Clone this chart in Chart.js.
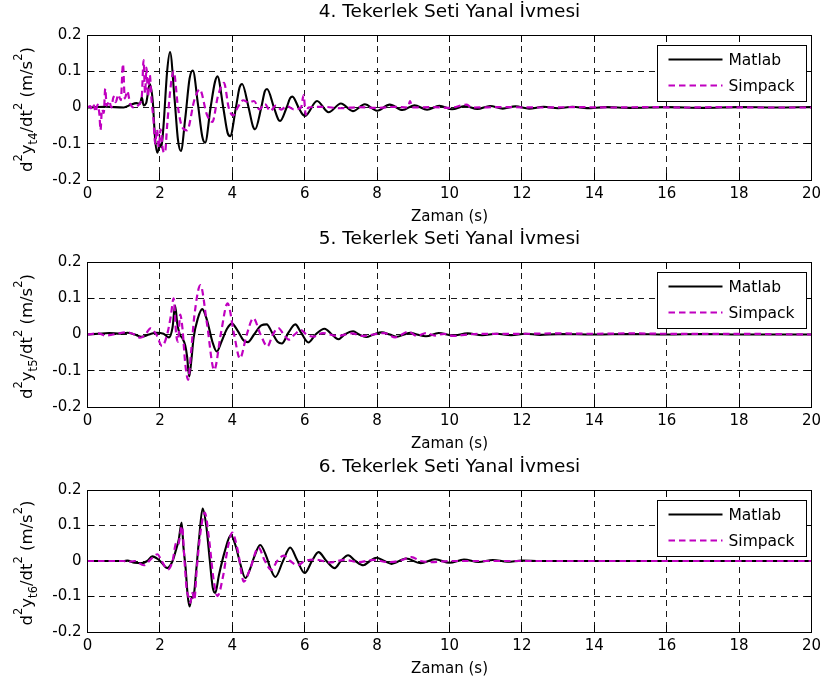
<!DOCTYPE html>
<html>
<head>
<meta charset="utf-8">
<script src="https://cdn.jsdelivr.net/npm/chart.js@4.4.1/dist/chart.umd.min.js"></script>
<style>
  html, body { margin: 0; padding: 0; background: #fff; }
  #fig { position: relative; width: 828px; height: 687px; background: #fff; overflow: hidden; }
  #fig canvas { position: absolute; left: 0; }
</style>
</head>
<body>
<div id="fig">
  <canvas id="c4" width="828" height="227" style="top:0px;width:828px;height:227px"></canvas>
  <canvas id="c5" width="828" height="227" style="top:227px;width:828px;height:227px"></canvas>
  <canvas id="c6" width="828" height="232" style="top:455px;width:828px;height:232px"></canvas>
</div>
<script>
// ---- axis ticks -------------------------------------------------------
const timeTicks = [0, 2, 4, 6, 8, 10, 12, 14, 16, 18, 20];
const timeTickLabels = ['0', '2', '4', '6', '8', '10', '12', '14', '16', '18', '20'];
const accelTicks = [-0.2, -0.1, 0, 0.1, 0.2];
const accelTickLabels = ['-0.2', '-0.1', '0', '0.1', '0.2'];

// ---- texts ------------------------------------------------------------
const panelTitles = ['4. Tekerlek Seti Yanal İvmesi', '5. Tekerlek Seti Yanal İvmesi', '6. Tekerlek Seti Yanal İvmesi'];
const wheelsetSubscripts = ['t4', 't5', 't6'];
const timeAxisTitle = 'Zaman (s)';
const seriesNames = ['Matlab', 'Simpack'];

// ---- lateral acceleration, [time (s), acceleration (m/s^2)] -----------
const matlab4 = [[0,0],[0.5,0.002],[1.0,0],[1.2,0.008],[1.35,0.012],[1.45,0.01],[1.5,0.028],[1.55,0.006],[1.62,0.012],[1.72,0.065],
  [1.8,0.02],[1.87,-0.09],[1.93,-0.125],[2.0,-0.1],[2.04,-0.11],[2.1,-0.05],[2.2,0.1],[2.28,0.153],[2.4,0.03],[2.5,-0.09],
  [2.58,-0.12],[2.7,-0.03],[2.82,0.08],[2.91,0.102],[3.05,0.01],[3.17,-0.08],[3.25,-0.097],[3.4,0],[3.52,0.07],[3.59,0.086],
  [3.75,0],[3.87,-0.07],[3.94,-0.079],[4.1,0],[4.2,0.055],[4.27,0.065],[4.45,0],[4.57,-0.052],[4.63,-0.06],[4.8,0],
  [4.9,0.045],[4.96,0.051],[5.15,0],[5.27,-0.033],[5.32,-0.037],[5.5,0],[5.6,0.026],[5.66,0.03],[5.83,0],[5.95,-0.02],
  [6.01,-0.023],[6.34,0.018],[6.66,-0.013],[7.0,0.011],[7.33,-0.01],[7.66,0.009],[8.0,-0.009],[8.35,0.008],[8.7,-0.007],[9.03,0.006],
  [9.38,-0.006],[9.72,0.005],[10.07,-0.005],[10.42,0.004],[10.77,-0.004],[11.12,0.004],[11.47,-0.003],[11.82,0.003],[12.2,-0.003],[12.6,0.002],
  [13.0,-0.002],[13.4,0.002],[13.8,-0.002],[14.3,0.001],[15.0,-0.001],[16.0,0.001],[17.0,-0.001],[18.0,0.001],[19.0,0],[20.0,0.001]];

const simpack4 = [[0,0],[0.08,0.004],[0.12,-0.006],[0.18,0.006],[0.22,-0.012],[0.28,0.008],[0.33,-0.02],[0.36,-0.062],[0.4,-0.005],[0.45,-0.015],
  [0.49,0.052],[0.53,0.005],[0.6,0.018],[0.66,0],[0.72,0.03],[0.78,0.015],[0.85,0.035],[0.92,0.02],[0.98,0.12],[1.03,0.025],
  [1.1,0.045],[1.18,0.01],[1.3,0],[1.42,0.008],[1.5,0.03],[1.55,0.131],[1.59,0.04],[1.63,0.11],[1.67,0.03],[1.72,0.09],
  [1.77,0.02],[1.82,-0.03],[1.87,-0.1],[1.92,-0.06],[1.97,-0.11],[2.02,-0.06],[2.08,-0.115],[2.14,-0.125],[2.2,-0.05],[2.3,0.06],
  [2.38,0.1],[2.5,0],[2.6,-0.05],[2.75,-0.063],[2.95,0.02],[3.1,0.05],[3.3,-0.02],[3.45,-0.04],[3.6,0.03],[3.77,0.068],
  [3.9,0],[4.02,-0.022],[4.15,0],[4.3,0.02],[4.45,0.014],[4.6,0.018],[4.75,-0.005],[4.9,0.01],[5.05,-0.01],[5.2,0.005],
  [5.35,-0.006],[5.5,0.004],[5.7,-0.005],[5.9,0],[5.97,0.034],[6.03,-0.02],[6.1,0],[6.5,0.002],[7.0,-0.002],[7.5,0.001],
  [8.0,-0.001],[8.5,0.002],[8.85,0],[8.91,0.018],[8.97,0],[9.5,0.001],[10.0,-0.001],[10.48,0.008],[10.6,0],[11.5,0.001],
  [12.5,0],[13.5,0.001],[14.5,0],[15.5,0.001],[16.5,0],[17.5,0.001],[18.5,0],[20,0]];

const matlab5 = [[0,0],[0.3,0.002],[0.6,0.004],[0.9,0.002],[1.1,0.005],[1.3,0],[1.5,-0.006],[1.7,0],[1.9,0.005],[2.1,0.002],
  [2.25,-0.008],[2.35,0.02],[2.42,0.08],[2.48,0.03],[2.55,0],[2.62,-0.01],[2.7,-0.03],[2.75,-0.06],[2.81,-0.116],[2.87,-0.07],
  [2.93,-0.01],[3.05,0.045],[3.17,0.07],[3.3,0.04],[3.45,-0.02],[3.57,-0.047],[3.7,-0.02],[3.85,0.015],[3.99,0.03],[4.15,0.01],
  [4.3,-0.015],[4.43,-0.021],[4.6,0],[4.8,0.025],[4.95,0.028],[5.1,0.005],[5.25,-0.02],[5.37,-0.025],[5.55,0.005],[5.74,0.028],
  [5.9,0.005],[6.1,-0.022],[6.3,0],[6.55,0.016],[6.75,0],[6.93,-0.013],[7.1,0],[7.34,0.009],[7.5,0],[7.7,-0.007],
  [7.9,0],[8.13,0.006],[8.35,0],[8.55,-0.006],[8.75,0],[8.92,0.005],[9.1,0],[9.35,-0.005],[9.7,0.004],[10.1,-0.003],
  [10.5,0.003],[10.9,-0.002],[11.3,0.002],[11.7,-0.002],[12.1,0.002],[12.5,-0.001],[13,0.001],[14,0],[15,0.001],[16,0],
  [17,0.001],[18,0],[19,0],[20,0]];

const simpack5 = [[0,0],[0.3,0.003],[0.5,-0.003],[0.7,0],[0.9,0.004],[1.1,0.006],[1.3,0],[1.46,-0.009],[1.6,0],[1.74,0.017],
  [1.9,0],[2.06,-0.032],[2.2,0],[2.3,0.05],[2.38,0.1],[2.45,0],[2.5,-0.02],[2.56,0.055],[2.62,0.02],[2.7,-0.08],
  [2.78,-0.125],[2.86,-0.05],[2.95,0.05],[3.12,0.136],[3.3,0.03],[3.5,-0.098],[3.68,0],[3.87,0.086],[4.05,0],[4.21,-0.066],
  [4.4,0],[4.58,0.045],[4.78,0],[4.97,-0.033],[5.12,0],[5.27,0.018],[5.42,0],[5.56,-0.014],[5.72,0],[5.9,0.012],
  [6.05,0],[6.25,-0.006],[6.5,0.004],[6.9,-0.004],[7.3,0.003],[7.6,-0.004],[7.9,0],[8.2,0.004],[8.5,-0.008],[8.87,0.008],
  [9.1,-0.004],[9.35,0.004],[9.6,-0.003],[9.85,0.002],[10.1,-0.004],[10.5,0],[11,0.002],[12,0.002],[13,0.003],[14,0.002],
  [15,0.003],[16,0.002],[17,0.002],[18,0.002],[19,0.001],[20,0]];

const matlab6 = [[0,0],[0.5,0],[1.0,0],[1.1,0.001],[1.3,-0.005],[1.5,-0.006],[1.65,0],[1.79,0.013],[1.95,0.005],[2.05,-0.005],
  [2.2,-0.02],[2.35,0],[2.44,0.03],[2.52,0.06],[2.6,0.108],[2.65,0.04],[2.71,-0.02],[2.77,-0.1],[2.82,-0.128],[2.87,-0.105],
  [2.93,-0.1],[3.0,-0.03],[3.08,0.06],[3.18,0.148],[3.28,0.1],[3.38,0],[3.46,-0.075],[3.53,-0.09],[3.63,-0.04],[3.8,0.03],
  [3.96,0.073],[4.1,0.04],[4.2,0],[4.36,-0.048],[4.5,-0.02],[4.6,0.01],[4.77,0.045],[4.95,0.01],[5.05,-0.02],[5.19,-0.045],
  [5.4,0],[5.6,0.038],[5.78,0.005],[6.0,-0.034],[6.2,0],[6.38,0.025],[6.6,0],[6.83,-0.02],[7.0,0],[7.2,0.016],
  [7.4,0],[7.62,-0.012],[7.8,0],[7.98,0.009],[8.2,0],[8.4,-0.008],[8.8,0.007],[9.2,-0.006],[9.6,0.005],[10.0,-0.005],
  [10.4,0.004],[10.8,-0.003],[11.2,0.003],[11.6,-0.002],[12.0,0.001],[12.5,0],[20,0]];

const simpack6 = [[0,0],[1.0,0],[1.1,-0.003],[1.3,0],[1.56,-0.012],[1.75,0.005],[1.93,0.019],[2.05,0],[2.22,-0.024],[2.35,0],
  [2.45,0.05],[2.5,0.045],[2.61,0.098],[2.68,0],[2.74,-0.08],[2.79,-0.1],[2.84,-0.118],[2.9,-0.09],[2.95,-0.11],[3.02,-0.02],
  [3.12,0.08],[3.24,0.136],[3.36,0.06],[3.48,-0.05],[3.59,-0.099],[3.75,-0.04],[3.88,0.04],[4.0,0.08],[4.15,0.03],[4.32,-0.058],
  [4.5,-0.02],[4.72,0.038],[4.9,0],[5.08,-0.025],[5.24,0],[5.42,0.015],[5.6,0],[5.8,-0.012],[6.0,0],[6.3,0.004],
  [6.7,-0.004],[7.1,0.003],[7.5,-0.003],[7.9,0.003],[8.3,-0.003],[8.6,0],[8.95,0.011],[9.2,0],[9.5,-0.003],[10,0],[20,0]];

// ---- drawing -----------------------------------------------------------
const FONT = '"DejaVu Sans", "Liberation Sans", sans-serif';
const MATLAB_COLOR = '#000000';
const SIMPACK_COLOR = '#C000C0';
const SIMPACK_DASH = [6.5, 4];

Chart.defaults.font.family = FONT;
Chart.defaults.color = '#000';

function align(p) { return Math.round(p - 0.5) + 0.5; }

function drawYAxisLabel(ctx, sub, baselineX, centerY) {
  const big = '16.5px ' + FONT, small = '11.5px ' + FONT;
  // [text, kind] kind: 0 normal, 1 superscript, -1 subscript
  const parts = [['d', 0], ['2', 1], ['y', 0], [sub, -1], ['/dt', 0], ['2', 1], [' (m/s', 0], ['2', 1], [')', 0]];
  let total = 0;
  const widths = parts.map(([t, k]) => {
    ctx.font = k === 0 ? big : small;
    const w = ctx.measureText(t).width;
    total += w;
    return w;
  });
  ctx.save();
  ctx.translate(baselineX, centerY);
  ctx.rotate(-Math.PI / 2);
  ctx.fillStyle = '#000';
  ctx.textBaseline = 'alphabetic';
  ctx.textAlign = 'left';
  let x = -total / 2;
  parts.forEach(([t, k], i) => {
    ctx.font = k === 0 ? big : small;
    ctx.fillText(t, x, k === 1 ? -10 : (k === -1 ? 4.5 : 0));
    x += widths[i];
  });
  ctx.restore();
}

const axesDecor = {
  id: 'axesDecor',
  beforeDatasetsDraw(chart) {
    const { ctx, chartArea: a, scales: { x, y } } = chart;
    const L = 7;
    ctx.save();
    ctx.strokeStyle = '#000';
    ctx.lineWidth = 1;
    ctx.setLineDash([]);
    ctx.beginPath();
    timeTicks.forEach(v => {
      const px = align(x.getPixelForValue(v));
      ctx.moveTo(px, a.bottom); ctx.lineTo(px, a.bottom - L);
      ctx.moveTo(px, a.top); ctx.lineTo(px, a.top + L);
    });
    accelTicks.forEach(v => {
      const py = align(y.getPixelForValue(v));
      ctx.moveTo(a.left, py); ctx.lineTo(a.left + L, py);
      ctx.moveTo(a.right, py); ctx.lineTo(a.right - L, py);
    });
    ctx.stroke();
    ctx.restore();
  },
  afterDatasetsDraw(chart) {
    const { ctx, chartArea: a } = chart;
    ctx.save();
    ctx.strokeStyle = '#000';
    ctx.lineWidth = 1;
    ctx.setLineDash([]);
    const l = align(a.left), t = align(a.top), r = align(a.right), b = align(a.bottom);
    ctx.strokeRect(l, t, r - l, b - t);

    // legend box in the upper right corner
    const bw = 149, bh = 56;
    const bx = align(a.right - 5.5 - bw), by = align(a.top + 10);
    ctx.fillStyle = '#fff';
    ctx.fillRect(bx, by, bw, bh);
    ctx.strokeRect(bx, by, bw, bh);
    chart.data.datasets.forEach((ds, i) => {
      const rowY = by + 14 + i * 26;
      ctx.save();
      ctx.strokeStyle = ds.borderColor;
      ctx.lineWidth = ds.borderWidth;
      ctx.setLineDash(ds.borderDash || []);
      ctx.beginPath();
      ctx.moveTo(bx + 11, rowY);
      ctx.lineTo(bx + 65, rowY);
      ctx.stroke();
      ctx.restore();
      ctx.fillStyle = '#000';
      ctx.font = '15.5px ' + FONT;
      ctx.textAlign = 'left';
      ctx.textBaseline = 'middle';
      ctx.fillText(ds.label, bx + 71, rowY + 1);
    });
    ctx.restore();
  },
  afterDraw(chart, args, opts) {
    const { ctx, chartArea: a } = chart;
    const cx = (a.left + a.right) / 2;
    ctx.save();
    ctx.fillStyle = '#000';
    ctx.textAlign = 'center';
    ctx.textBaseline = 'alphabetic';
    ctx.font = '18.5px ' + FONT;
    ctx.fillText(opts.title, cx, a.top - 18.5);
    ctx.font = '15px ' + FONT;
    ctx.fillText(timeAxisTitle, cx, a.bottom + 41);
    ctx.restore();
    drawYAxisLabel(ctx, opts.sub, 32, (a.top + a.bottom) / 2 + 2);
  }
};

function toPoints(pairs) { return pairs.map(([t, v]) => ({ x: t, y: v })); }

function makePanel(canvasId, idx, matlab, simpack, plotHeight, canvasHeight) {
  const xAxisHeight = 30;
  return new Chart(document.getElementById(canvasId), {
    type: 'line',
    data: {
      datasets: [
        { label: seriesNames[0], data: toPoints(matlab), borderColor: MATLAB_COLOR, borderWidth: 2.1,
          pointRadius: 0, cubicInterpolationMode: 'monotone', fill: false, order: 0 },
        { label: seriesNames[1], data: toPoints(simpack), borderColor: SIMPACK_COLOR, borderWidth: 2.2,
          borderDash: SIMPACK_DASH, pointRadius: 0, cubicInterpolationMode: 'monotone', fill: false, order: -1 }
      ]
    },
    options: {
      responsive: false,
      animation: false,
      devicePixelRatio: 1,
      events: [],
      layout: { padding: { top: 35, left: 7.5, right: 16.5, bottom: canvasHeight - 35 - plotHeight - xAxisHeight } },
      plugins: {
        legend: { display: false },
        tooltip: { enabled: false },
        title: { display: false },
        axesDecor: { title: panelTitles[idx], sub: wheelsetSubscripts[idx] }
      },
      scales: {
        x: {
          type: 'linear', min: 0, max: 20,
          afterBuildTicks: s => { s.ticks = timeTicks.map(v => ({ value: v })); },
          afterFit: s => { s.height = xAxisHeight; s.paddingLeft = 0; s.paddingRight = 0; },
          ticks: { callback: (v, i) => timeTickLabels[i], font: { size: 15, family: FONT }, color: '#000',
                   padding: 5, maxRotation: 0, minRotation: 0, autoSkip: false },
          grid: { color: '#1a1a1a', lineWidth: 1, drawTicks: false, borderDash: [6, 5] },
          border: { display: false, dash: [6, 5] }
        },
        y: {
          type: 'linear', min: -0.2, max: 0.2,
          afterBuildTicks: s => { s.ticks = accelTicks.map(v => ({ value: v })); },
          afterFit: s => { s.width = 80; s.paddingTop = 0; s.paddingBottom = 0; },
          ticks: { callback: (v, i) => accelTickLabels[i], font: { size: 15, family: FONT }, color: '#000',
                   padding: 6, autoSkip: false },
          grid: { color: '#1a1a1a', lineWidth: 1, drawTicks: false, borderDash: [6, 5] },
          border: { display: false, dash: [6, 5] }
        }
      }
    },
    plugins: [axesDecor]
  });
}

makePanel('c4', 0, matlab4, simpack4, 145, 227);
makePanel('c5', 1, matlab5, simpack5, 145, 227);
makePanel('c6', 2, matlab6, simpack6, 142, 232);
</script>
</body>
</html>
